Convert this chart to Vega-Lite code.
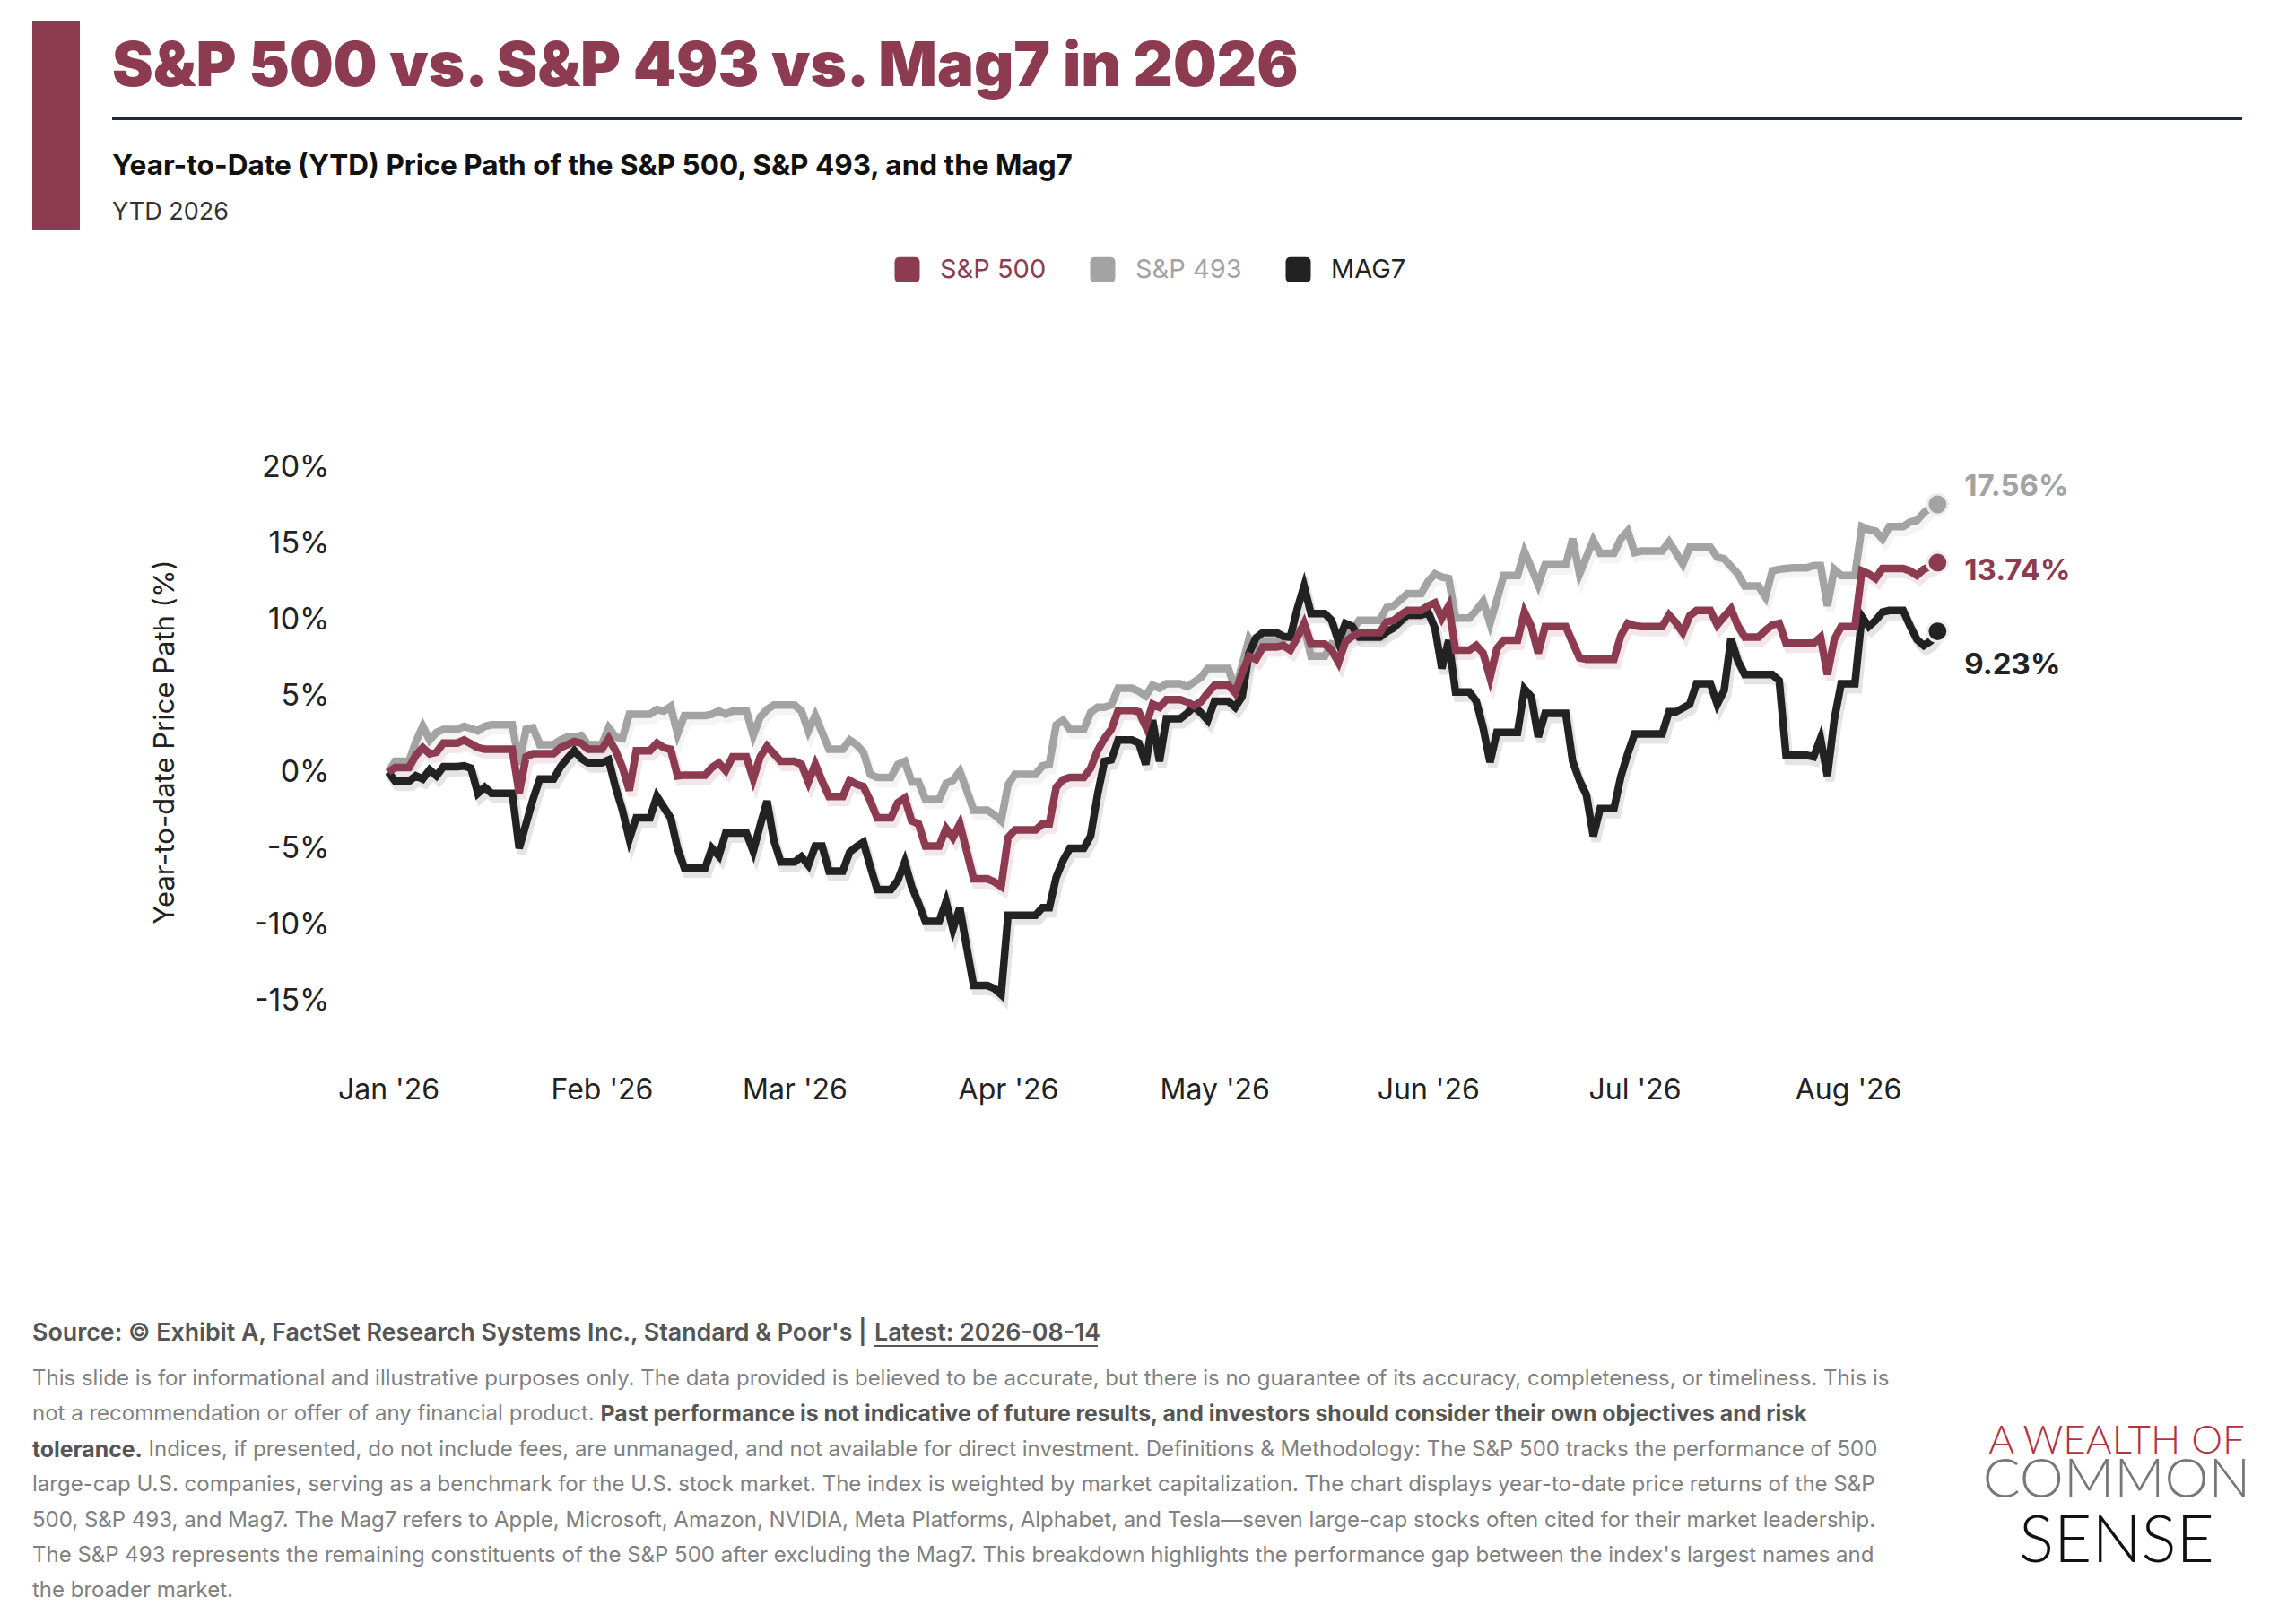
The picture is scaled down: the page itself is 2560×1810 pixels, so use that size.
{
  "$schema": "https://vega.github.io/schema/vega-lite/v6.json",
  "background": "#ffffff",
  "padding": {"left": 36, "top": 23, "right": 0, "bottom": 0},
  "config": {
    "font": "Inter",
    "view": {"stroke": null},
    "concat": {"spacing": 0},
    "title": {"anchor": "start", "frame": "group", "orient": "bottom", "offset": 0},
    "locale": {
      "number": {"decimal": ".", "thousands": ",", "grouping": [3], "currency": ["", "%"], "minus": "-"}
    }
  },
  "datasets": {
    "ytd": [
      {"date": "2026-01-01", "sp500": 0, "sp493": 0, "mag7": 0},
      {"date": "2026-01-02", "sp500": 0.3, "sp493": 0.7, "mag7": -0.6},
      {"date": "2026-01-03", "sp500": 0.3, "sp493": 0.7, "mag7": -0.6},
      {"date": "2026-01-04", "sp500": 0.3, "sp493": 0.7, "mag7": -0.6},
      {"date": "2026-01-05", "sp500": 1.1, "sp493": 2.0, "mag7": -0.25},
      {"date": "2026-01-06", "sp500": 1.6, "sp493": 3.0, "mag7": -0.45},
      {"date": "2026-01-07", "sp500": 1.2, "sp493": 2.1, "mag7": 0.15},
      {"date": "2026-01-08", "sp500": 1.3, "sp493": 2.6, "mag7": -0.25},
      {"date": "2026-01-09", "sp500": 1.9, "sp493": 2.8, "mag7": 0.35},
      {"date": "2026-01-10", "sp500": 1.9, "sp493": 2.8, "mag7": 0.35},
      {"date": "2026-01-11", "sp500": 1.9, "sp493": 2.8, "mag7": 0.35},
      {"date": "2026-01-12", "sp500": 2.1, "sp493": 3.0, "mag7": 0.4},
      {"date": "2026-01-13", "sp500": 1.85, "sp493": 2.85, "mag7": 0.25},
      {"date": "2026-01-14", "sp500": 1.6, "sp493": 2.7, "mag7": -1.4},
      {"date": "2026-01-15", "sp500": 1.5, "sp493": 3.0, "mag7": -1.0},
      {"date": "2026-01-16", "sp500": 1.5, "sp493": 3.1, "mag7": -1.4},
      {"date": "2026-01-17", "sp500": 1.5, "sp493": 3.1, "mag7": -1.4},
      {"date": "2026-01-18", "sp500": 1.5, "sp493": 3.1, "mag7": -1.4},
      {"date": "2026-01-19", "sp500": 1.5, "sp493": 3.1, "mag7": -1.4},
      {"date": "2026-01-20", "sp500": -1.4, "sp493": 0.5, "mag7": -5.0},
      {"date": "2026-01-21", "sp500": 1.0, "sp493": 2.8, "mag7": -3.4},
      {"date": "2026-01-22", "sp500": 1.2, "sp493": 2.9, "mag7": -1.8},
      {"date": "2026-01-23", "sp500": 1.2, "sp493": 1.8, "mag7": -0.45},
      {"date": "2026-01-24", "sp500": 1.2, "sp493": 1.8, "mag7": -0.45},
      {"date": "2026-01-25", "sp500": 1.2, "sp493": 1.8, "mag7": -0.45},
      {"date": "2026-01-26", "sp500": 1.6, "sp493": 2.1, "mag7": 0.35},
      {"date": "2026-01-27", "sp500": 1.8, "sp493": 2.3, "mag7": 0.9},
      {"date": "2026-01-28", "sp500": 2.0, "sp493": 2.3, "mag7": 1.4},
      {"date": "2026-01-29", "sp500": 1.9, "sp493": 2.4, "mag7": 0.9},
      {"date": "2026-01-30", "sp500": 1.5, "sp493": 1.8, "mag7": 0.6},
      {"date": "2026-01-31", "sp500": 1.5, "sp493": 1.8, "mag7": 0.6},
      {"date": "2026-02-01", "sp500": 1.5, "sp493": 1.8, "mag7": 0.6},
      {"date": "2026-02-02", "sp500": 2.2, "sp493": 2.9, "mag7": 0.8},
      {"date": "2026-02-03", "sp500": 1.4, "sp493": 2.3, "mag7": -1.0},
      {"date": "2026-02-04", "sp500": 0.3, "sp493": 2.2, "mag7": -2.5},
      {"date": "2026-02-05", "sp500": -1.2, "sp493": 3.8, "mag7": -4.4},
      {"date": "2026-02-06", "sp500": 1.4, "sp493": 3.8, "mag7": -3.0},
      {"date": "2026-02-07", "sp500": 1.4, "sp493": 3.8, "mag7": -3.0},
      {"date": "2026-02-08", "sp500": 1.4, "sp493": 3.8, "mag7": -3.0},
      {"date": "2026-02-09", "sp500": 1.9, "sp493": 4.1, "mag7": -1.6},
      {"date": "2026-02-10", "sp500": 1.6, "sp493": 4.0, "mag7": -2.3},
      {"date": "2026-02-11", "sp500": 1.5, "sp493": 4.3, "mag7": -3.0},
      {"date": "2026-02-12", "sp500": -0.25, "sp493": 2.5, "mag7": -5.0},
      {"date": "2026-02-13", "sp500": -0.2, "sp493": 3.7, "mag7": -6.3},
      {"date": "2026-02-14", "sp500": -0.2, "sp493": 3.7, "mag7": -6.3},
      {"date": "2026-02-15", "sp500": -0.2, "sp493": 3.7, "mag7": -6.3},
      {"date": "2026-02-16", "sp500": -0.2, "sp493": 3.7, "mag7": -6.3},
      {"date": "2026-02-17", "sp500": 0.3, "sp493": 3.8, "mag7": -5.0},
      {"date": "2026-02-18", "sp500": 0.6, "sp493": 4.0, "mag7": -5.5},
      {"date": "2026-02-19", "sp500": 0.1, "sp493": 3.8, "mag7": -4.0},
      {"date": "2026-02-20", "sp500": 1.0, "sp493": 4.0, "mag7": -4.0},
      {"date": "2026-02-21", "sp500": 1.0, "sp493": 4.0, "mag7": -4.0},
      {"date": "2026-02-22", "sp500": 1.0, "sp493": 4.0, "mag7": -4.0},
      {"date": "2026-02-23", "sp500": -0.45, "sp493": 2.4, "mag7": -5.2},
      {"date": "2026-02-24", "sp500": 1.0, "sp493": 3.6, "mag7": -3.5},
      {"date": "2026-02-25", "sp500": 1.7, "sp493": 4.1, "mag7": -1.9},
      {"date": "2026-02-26", "sp500": 1.2, "sp493": 4.4, "mag7": -4.5},
      {"date": "2026-02-27", "sp500": 0.7, "sp493": 4.4, "mag7": -5.9},
      {"date": "2026-02-28", "sp500": 0.7, "sp493": 4.4, "mag7": -5.9},
      {"date": "2026-03-01", "sp500": 0.7, "sp493": 4.4, "mag7": -5.9},
      {"date": "2026-03-02", "sp500": 0.5, "sp493": 4.0, "mag7": -5.55},
      {"date": "2026-03-03", "sp500": -0.65, "sp493": 2.7, "mag7": -6.1},
      {"date": "2026-03-04", "sp500": 0.5, "sp493": 3.7, "mag7": -4.85},
      {"date": "2026-03-05", "sp500": -0.6, "sp493": 2.6, "mag7": -4.85},
      {"date": "2026-03-06", "sp500": -1.6, "sp493": 1.5, "mag7": -6.5},
      {"date": "2026-03-07", "sp500": -1.6, "sp493": 1.5, "mag7": -6.5},
      {"date": "2026-03-08", "sp500": -1.6, "sp493": 1.5, "mag7": -6.5},
      {"date": "2026-03-09", "sp500": -0.55, "sp493": 2.1, "mag7": -5.25},
      {"date": "2026-03-10", "sp500": -0.8, "sp493": 1.8, "mag7": -4.9},
      {"date": "2026-03-11", "sp500": -0.95, "sp493": 1.3, "mag7": -4.6},
      {"date": "2026-03-12", "sp500": -1.9, "sp493": -0.15, "mag7": -6.2},
      {"date": "2026-03-13", "sp500": -3.0, "sp493": -0.35, "mag7": -7.7},
      {"date": "2026-03-14", "sp500": -3.0, "sp493": -0.35, "mag7": -7.7},
      {"date": "2026-03-15", "sp500": -3.0, "sp493": -0.35, "mag7": -7.7},
      {"date": "2026-03-16", "sp500": -2.0, "sp493": 0.5, "mag7": -7.1},
      {"date": "2026-03-17", "sp500": -1.7, "sp493": 0.7, "mag7": -5.9},
      {"date": "2026-03-18", "sp500": -3.2, "sp493": -0.65, "mag7": -7.5},
      {"date": "2026-03-19", "sp500": -3.4, "sp493": -0.65, "mag7": -8.6},
      {"date": "2026-03-20", "sp500": -4.85, "sp493": -1.8, "mag7": -9.8},
      {"date": "2026-03-21", "sp500": -4.85, "sp493": -1.8, "mag7": -9.8},
      {"date": "2026-03-22", "sp500": -4.85, "sp493": -1.8, "mag7": -9.8},
      {"date": "2026-03-23", "sp500": -3.7, "sp493": -0.75, "mag7": -8.5},
      {"date": "2026-03-24", "sp500": -4.3, "sp493": -0.55, "mag7": -10.3},
      {"date": "2026-03-25", "sp500": -3.4, "sp493": 0.05, "mag7": -8.9},
      {"date": "2026-03-26", "sp500": -5.2, "sp493": -1.2, "mag7": -11.5},
      {"date": "2026-03-27", "sp500": -7.0, "sp493": -2.5, "mag7": -14.0},
      {"date": "2026-03-28", "sp500": -7.0, "sp493": -2.5, "mag7": -14.0},
      {"date": "2026-03-29", "sp500": -7.0, "sp493": -2.5, "mag7": -14.0},
      {"date": "2026-03-30", "sp500": -7.2, "sp493": -2.8, "mag7": -14.2},
      {"date": "2026-03-31", "sp500": -7.5, "sp493": -3.2, "mag7": -14.6},
      {"date": "2026-04-01", "sp500": -4.3, "sp493": -0.85, "mag7": -9.4},
      {"date": "2026-04-02", "sp500": -3.8, "sp493": -0.15, "mag7": -9.4},
      {"date": "2026-04-03", "sp500": -3.8, "sp493": -0.15, "mag7": -9.4},
      {"date": "2026-04-04", "sp500": -3.8, "sp493": -0.15, "mag7": -9.4},
      {"date": "2026-04-05", "sp500": -3.8, "sp493": -0.15, "mag7": -9.4},
      {"date": "2026-04-06", "sp500": -3.4, "sp493": 0.4, "mag7": -8.9},
      {"date": "2026-04-07", "sp500": -3.4, "sp493": 0.5, "mag7": -8.9},
      {"date": "2026-04-08", "sp500": -1.0, "sp493": 3.1, "mag7": -6.9},
      {"date": "2026-04-09", "sp500": -0.5, "sp493": 3.4, "mag7": -5.8},
      {"date": "2026-04-10", "sp500": -0.35, "sp493": 2.8, "mag7": -5.0},
      {"date": "2026-04-11", "sp500": -0.35, "sp493": 2.8, "mag7": -5.0},
      {"date": "2026-04-12", "sp500": -0.35, "sp493": 2.8, "mag7": -5.0},
      {"date": "2026-04-13", "sp500": 0.25, "sp493": 3.9, "mag7": -4.2},
      {"date": "2026-04-14", "sp500": 1.4, "sp493": 4.25, "mag7": -1.5},
      {"date": "2026-04-15", "sp500": 2.2, "sp493": 4.25, "mag7": 0.7},
      {"date": "2026-04-16", "sp500": 2.8, "sp493": 4.4, "mag7": 0.8},
      {"date": "2026-04-17", "sp500": 4.05, "sp493": 5.5, "mag7": 2.1},
      {"date": "2026-04-18", "sp500": 4.05, "sp493": 5.5, "mag7": 2.1},
      {"date": "2026-04-19", "sp500": 4.05, "sp493": 5.5, "mag7": 2.1},
      {"date": "2026-04-20", "sp500": 3.95, "sp493": 5.3, "mag7": 1.9},
      {"date": "2026-04-21", "sp500": 3.0, "sp493": 5.0, "mag7": 0.5},
      {"date": "2026-04-22", "sp500": 4.45, "sp493": 5.7, "mag7": 3.4},
      {"date": "2026-04-23", "sp500": 4.25, "sp493": 5.5, "mag7": 0.7},
      {"date": "2026-04-24", "sp500": 4.75, "sp493": 5.8, "mag7": 3.5},
      {"date": "2026-04-25", "sp500": 4.75, "sp493": 5.8, "mag7": 3.5},
      {"date": "2026-04-26", "sp500": 4.75, "sp493": 5.8, "mag7": 3.5},
      {"date": "2026-04-27", "sp500": 4.6, "sp493": 5.6, "mag7": 3.85},
      {"date": "2026-04-28", "sp500": 4.35, "sp493": 5.9, "mag7": 4.3},
      {"date": "2026-04-29", "sp500": 4.6, "sp493": 6.2, "mag7": 3.9},
      {"date": "2026-04-30", "sp500": 5.2, "sp493": 6.8, "mag7": 3.4},
      {"date": "2026-05-01", "sp500": 5.7, "sp493": 6.8, "mag7": 4.65},
      {"date": "2026-05-02", "sp500": 5.7, "sp493": 6.8, "mag7": 4.65},
      {"date": "2026-05-03", "sp500": 5.7, "sp493": 6.8, "mag7": 4.65},
      {"date": "2026-05-04", "sp500": 5.2, "sp493": 5.4, "mag7": 4.25},
      {"date": "2026-05-05", "sp500": 6.5, "sp493": 7.0, "mag7": 4.95},
      {"date": "2026-05-06", "sp500": 7.6, "sp493": 8.75, "mag7": 7.8},
      {"date": "2026-05-07", "sp500": 7.4, "sp493": 8.0, "mag7": 8.8},
      {"date": "2026-05-08", "sp500": 8.2, "sp493": 8.6, "mag7": 9.15},
      {"date": "2026-05-09", "sp500": 8.2, "sp493": 8.6, "mag7": 9.15},
      {"date": "2026-05-10", "sp500": 8.2, "sp493": 8.6, "mag7": 9.15},
      {"date": "2026-05-11", "sp500": 8.3, "sp493": 8.75, "mag7": 8.9},
      {"date": "2026-05-12", "sp500": 8.0, "sp493": 8.9, "mag7": 8.85},
      {"date": "2026-05-13", "sp500": 8.8, "sp493": 9.2, "mag7": 10.7},
      {"date": "2026-05-14", "sp500": 9.75, "sp493": 9.55, "mag7": 12.2},
      {"date": "2026-05-15", "sp500": 8.4, "sp493": 7.6, "mag7": 10.4},
      {"date": "2026-05-16", "sp500": 8.4, "sp493": 7.6, "mag7": 10.4},
      {"date": "2026-05-17", "sp500": 8.4, "sp493": 7.6, "mag7": 10.4},
      {"date": "2026-05-18", "sp500": 8.0, "sp493": 8.4, "mag7": 9.95},
      {"date": "2026-05-19", "sp500": 7.2, "sp493": 8.3, "mag7": 8.55},
      {"date": "2026-05-20", "sp500": 8.55, "sp493": 8.9, "mag7": 9.75},
      {"date": "2026-05-21", "sp500": 8.9, "sp493": 9.3, "mag7": 9.55},
      {"date": "2026-05-22", "sp500": 9.15, "sp493": 9.95, "mag7": 8.85},
      {"date": "2026-05-23", "sp500": 9.15, "sp493": 9.95, "mag7": 8.85},
      {"date": "2026-05-24", "sp500": 9.15, "sp493": 9.95, "mag7": 8.85},
      {"date": "2026-05-25", "sp500": 9.15, "sp493": 9.95, "mag7": 8.85},
      {"date": "2026-05-26", "sp500": 9.85, "sp493": 10.8, "mag7": 9.2},
      {"date": "2026-05-27", "sp500": 9.95, "sp493": 10.9, "mag7": 9.45},
      {"date": "2026-05-28", "sp500": 10.3, "sp493": 11.3, "mag7": 9.9},
      {"date": "2026-05-29", "sp500": 10.6, "sp493": 11.7, "mag7": 10.3},
      {"date": "2026-05-30", "sp500": 10.6, "sp493": 11.7, "mag7": 10.3},
      {"date": "2026-05-31", "sp500": 10.6, "sp493": 11.7, "mag7": 10.3},
      {"date": "2026-06-01", "sp500": 10.9, "sp493": 12.5, "mag7": 10.5},
      {"date": "2026-06-02", "sp500": 11.1, "sp493": 13.0, "mag7": 9.45},
      {"date": "2026-06-03", "sp500": 10.1, "sp493": 12.8, "mag7": 6.8},
      {"date": "2026-06-04", "sp500": 10.9, "sp493": 12.7, "mag7": 8.65},
      {"date": "2026-06-05", "sp500": 8.0, "sp493": 10.1, "mag7": 5.25},
      {"date": "2026-06-06", "sp500": 8.0, "sp493": 10.1, "mag7": 5.25},
      {"date": "2026-06-07", "sp500": 8.0, "sp493": 10.1, "mag7": 5.25},
      {"date": "2026-06-08", "sp500": 8.3, "sp493": 10.6, "mag7": 4.65},
      {"date": "2026-06-09", "sp500": 7.8, "sp493": 11.2, "mag7": 2.9},
      {"date": "2026-06-10", "sp500": 6.2, "sp493": 9.75, "mag7": 0.65},
      {"date": "2026-06-11", "sp500": 8.1, "sp493": 11.3, "mag7": 2.6},
      {"date": "2026-06-12", "sp500": 8.65, "sp493": 12.9, "mag7": 2.6},
      {"date": "2026-06-13", "sp500": 8.65, "sp493": 12.9, "mag7": 2.6},
      {"date": "2026-06-14", "sp500": 8.65, "sp493": 12.9, "mag7": 2.6},
      {"date": "2026-06-15", "sp500": 10.5, "sp493": 14.45, "mag7": 5.45},
      {"date": "2026-06-16", "sp500": 9.55, "sp493": 13.4, "mag7": 4.95},
      {"date": "2026-06-17", "sp500": 7.8, "sp493": 12.3, "mag7": 2.3},
      {"date": "2026-06-18", "sp500": 9.55, "sp493": 13.6, "mag7": 3.85},
      {"date": "2026-06-19", "sp500": 9.55, "sp493": 13.6, "mag7": 3.85},
      {"date": "2026-06-20", "sp500": 9.55, "sp493": 13.6, "mag7": 3.85},
      {"date": "2026-06-21", "sp500": 9.55, "sp493": 13.6, "mag7": 3.85},
      {"date": "2026-06-22", "sp500": 8.5, "sp493": 15.3, "mag7": 0.7},
      {"date": "2026-06-23", "sp500": 7.5, "sp493": 13.0, "mag7": -0.55},
      {"date": "2026-06-24", "sp500": 7.4, "sp493": 14.1, "mag7": -1.5},
      {"date": "2026-06-25", "sp500": 7.4, "sp493": 15.2, "mag7": -4.2},
      {"date": "2026-06-26", "sp500": 7.4, "sp493": 14.35, "mag7": -2.4},
      {"date": "2026-06-27", "sp500": 7.4, "sp493": 14.35, "mag7": -2.4},
      {"date": "2026-06-28", "sp500": 7.4, "sp493": 14.35, "mag7": -2.4},
      {"date": "2026-06-29", "sp500": 8.95, "sp493": 15.3, "mag7": -0.3},
      {"date": "2026-06-30", "sp500": 9.75, "sp493": 15.8, "mag7": 1.2},
      {"date": "2026-07-01", "sp500": 9.6, "sp493": 14.4, "mag7": 2.5},
      {"date": "2026-07-02", "sp500": 9.55, "sp493": 14.5, "mag7": 2.5},
      {"date": "2026-07-03", "sp500": 9.55, "sp493": 14.5, "mag7": 2.5},
      {"date": "2026-07-04", "sp500": 9.55, "sp493": 14.5, "mag7": 2.5},
      {"date": "2026-07-05", "sp500": 9.55, "sp493": 14.5, "mag7": 2.5},
      {"date": "2026-07-06", "sp500": 10.3, "sp493": 15.1, "mag7": 3.95},
      {"date": "2026-07-07", "sp500": 9.8, "sp493": 14.4, "mag7": 3.95},
      {"date": "2026-07-08", "sp500": 9.15, "sp493": 13.65, "mag7": 4.2},
      {"date": "2026-07-09", "sp500": 10.25, "sp493": 14.75, "mag7": 4.45},
      {"date": "2026-07-10", "sp500": 10.6, "sp493": 14.75, "mag7": 5.8},
      {"date": "2026-07-11", "sp500": 10.6, "sp493": 14.75, "mag7": 5.8},
      {"date": "2026-07-12", "sp500": 10.6, "sp493": 14.75, "mag7": 5.8},
      {"date": "2026-07-13", "sp500": 9.65, "sp493": 14.1, "mag7": 4.45},
      {"date": "2026-07-14", "sp500": 10.2, "sp493": 14.0, "mag7": 5.35},
      {"date": "2026-07-15", "sp500": 10.7, "sp493": 13.5, "mag7": 8.75},
      {"date": "2026-07-16", "sp500": 9.6, "sp493": 13.0, "mag7": 7.3},
      {"date": "2026-07-17", "sp500": 8.85, "sp493": 12.2, "mag7": 6.4},
      {"date": "2026-07-18", "sp500": 8.85, "sp493": 12.2, "mag7": 6.4},
      {"date": "2026-07-19", "sp500": 8.85, "sp493": 12.2, "mag7": 6.4},
      {"date": "2026-07-20", "sp500": 9.3, "sp493": 11.5, "mag7": 6.4},
      {"date": "2026-07-21", "sp500": 9.65, "sp493": 13.2, "mag7": 6.4},
      {"date": "2026-07-22", "sp500": 9.75, "sp493": 13.3, "mag7": 6.0},
      {"date": "2026-07-23", "sp500": 8.45, "sp493": 13.35, "mag7": 1.1},
      {"date": "2026-07-24", "sp500": 8.45, "sp493": 13.4, "mag7": 1.1},
      {"date": "2026-07-25", "sp500": 8.45, "sp493": 13.4, "mag7": 1.1},
      {"date": "2026-07-26", "sp500": 8.45, "sp493": 13.4, "mag7": 1.1},
      {"date": "2026-07-27", "sp500": 8.45, "sp493": 13.55, "mag7": 1.0},
      {"date": "2026-07-28", "sp500": 8.85, "sp493": 13.55, "mag7": 2.2},
      {"date": "2026-07-29", "sp500": 6.4, "sp493": 10.9, "mag7": -0.25},
      {"date": "2026-07-30", "sp500": 8.7, "sp493": 13.3, "mag7": 3.45},
      {"date": "2026-07-31", "sp500": 9.55, "sp493": 12.9, "mag7": 5.8},
      {"date": "2026-08-01", "sp500": 9.55, "sp493": 12.9, "mag7": 5.8},
      {"date": "2026-08-02", "sp500": 9.55, "sp493": 12.9, "mag7": 5.8},
      {"date": "2026-08-03", "sp500": 13.2, "sp493": 16.1, "mag7": 10.2},
      {"date": "2026-08-04", "sp500": 13.0, "sp493": 15.9, "mag7": 9.55},
      {"date": "2026-08-05", "sp500": 12.7, "sp493": 15.8, "mag7": 9.95},
      {"date": "2026-08-06", "sp500": 13.35, "sp493": 15.3, "mag7": 10.5},
      {"date": "2026-08-07", "sp500": 13.35, "sp493": 16.1, "mag7": 10.6},
      {"date": "2026-08-08", "sp500": 13.35, "sp493": 16.1, "mag7": 10.6},
      {"date": "2026-08-09", "sp500": 13.35, "sp493": 16.1, "mag7": 10.6},
      {"date": "2026-08-10", "sp500": 13.2, "sp493": 16.4, "mag7": 9.6},
      {"date": "2026-08-11", "sp500": 12.9, "sp493": 16.5, "mag7": 8.7},
      {"date": "2026-08-12", "sp500": 13.3, "sp493": 17.0, "mag7": 8.3},
      {"date": "2026-08-13", "sp500": 13.5, "sp493": 17.4, "mag7": 8.6},
      {"date": "2026-08-14", "sp500": 13.74, "sp493": 17.56, "mag7": 9.23}
    ]
  },
  "spacing": 0,
  "vconcat": [
    {
      "spacing": 36,
      "hconcat": [
        {
          "width": 53,
          "height": 233,
          "view": {"fill": "#8C3B50", "stroke": null},
          "data": {"values": []},
          "mark": "point"
        },
        {
          "spacing": 0,
          "vconcat": [
            {
              "width": 2375,
              "height": 0,
              "title": {
                "text": "S&P 500 vs. S&P 493 vs. Mag7 in 2026",
                "fontSize": 68.7,
                "fontWeight": 900,
                "color": "#8C3B50",
                "offset": -1
              },
              "data": {"values": []},
              "mark": "point"
            },
            {"width": 10, "height": 21, "data": {"values": []}, "mark": "point"},
            {
              "width": 2375,
              "height": 3,
              "view": {"fill": "#1D2A40", "stroke": null},
              "data": {"values": []},
              "mark": "point"
            },
            {"width": 10, "height": 12, "data": {"values": []}, "mark": "point"},
            {
              "width": 2375,
              "height": 0,
              "title": {
                "text": "Year-to-Date (YTD) Price Path of the S&P 500, S&P 493, and the Mag7",
                "subtitle": "YTD 2026",
                "fontSize": 31.5,
                "fontWeight": 700,
                "color": "#111111",
                "subtitleFontSize": 27,
                "subtitleFontWeight": 400,
                "subtitleColor": "#333333",
                "subtitlePadding": 22
              },
              "data": {"values": []},
              "mark": "point"
            }
          ]
        }
      ]
    },
    {"width": 10, "height": 214, "data": {"values": []}, "mark": "point"},
    {
      "spacing": 0,
      "hconcat": [
        {"width": 132, "height": 10, "data": {"values": []}, "mark": "point"},
        {
          "width": 1831,
          "height": 714,
          "data": {"name": "ytd"},
          "transform": [{"fold": ["sp500", "sp493", "mag7"], "as": ["series", "value"]}],
          "layer": [
            {
              "data": {"values": [{"level": 0}]},
              "mark": {"type": "rule", "color": "#2A2A2A", "strokeWidth": 2.5},
              "encoding": {
                "y": {"field": "level", "type": "quantitative"}
              }
            },
            {
              "mark": {"type": "line", "color": "#000000", "opacity": 0.12, "strokeWidth": 10, "xOffset": 3, "yOffset": 6},
              "encoding": {
                "x": {"field": "date", "type": "temporal"},
                "y": {"field": "value", "type": "quantitative"},
                "detail": {"field": "series"}
              }
            },
            {
              "transform": [{"filter": "datum.series == 'sp493'"}],
              "mark": {"type": "line", "strokeWidth": 8.5},
              "encoding": {
                "x": {"field": "date", "type": "temporal"},
                "y": {"field": "value", "type": "quantitative"},
                "color": {"field": "series", "type": "nominal"}
              }
            },
            {
              "transform": [{"filter": "datum.series == 'mag7'"}],
              "mark": {"type": "line", "strokeWidth": 8.5},
              "encoding": {
                "x": {"field": "date", "type": "temporal"},
                "y": {"field": "value", "type": "quantitative"},
                "color": {"field": "series", "type": "nominal"}
              }
            },
            {
              "transform": [{"filter": "datum.series == 'sp500'"}],
              "mark": {"type": "line", "strokeWidth": 8.5},
              "encoding": {
                "x": {"field": "date", "type": "temporal"},
                "y": {"field": "value", "type": "quantitative"},
                "color": {"field": "series", "type": "nominal"}
              }
            },
            {
              "transform": [{"filter": "utcmonth(datum.date) == 7 && utcdate(datum.date) == 14"}],
              "mark": {"type": "point", "filled": true, "size": 520, "opacity": 1, "stroke": "#eeeeee", "strokeWidth": 3},
              "encoding": {
                "x": {"field": "date", "type": "temporal"},
                "y": {"field": "value", "type": "quantitative"},
                "color": {"field": "series", "type": "nominal"}
              }
            },
            {
              "transform": [{"filter": "datum.series == 'sp493' && utcmonth(datum.date) == 7 && utcdate(datum.date) == 14"}],
              "mark": {"type": "text", "align": "left", "dx": 30, "dy": -19, "fontSize": 33, "fontWeight": 700, "color": "#9E9E9E"},
              "encoding": {
                "x": {"field": "date", "type": "temporal"},
                "y": {"field": "value", "type": "quantitative"},
                "text": {"field": "value", "type": "quantitative", "format": "$.2f"}
              }
            },
            {
              "transform": [{"filter": "datum.series == 'sp500' && utcmonth(datum.date) == 7 && utcdate(datum.date) == 14"}],
              "mark": {"type": "text", "align": "left", "dx": 30, "dy": 10, "fontSize": 33, "fontWeight": 700, "color": "#8C3B50"},
              "encoding": {
                "x": {"field": "date", "type": "temporal"},
                "y": {"field": "value", "type": "quantitative"},
                "text": {"field": "value", "type": "quantitative", "format": "$.2f"}
              }
            },
            {
              "transform": [{"filter": "datum.series == 'mag7' && utcmonth(datum.date) == 7 && utcdate(datum.date) == 14"}],
              "mark": {"type": "text", "align": "left", "dx": 30, "dy": 38, "fontSize": 33, "fontWeight": 700, "color": "#111111"},
              "encoding": {
                "x": {"field": "date", "type": "temporal"},
                "y": {"field": "value", "type": "quantitative"},
                "text": {"field": "value", "type": "quantitative", "format": "$.2f"}
              }
            }
          ],
          "encoding": {
            "x": {
              "field": "date",
              "type": "temporal",
              "title": null,
              "scale": {
                "type": "utc",
                "domain": [
                  {"year": 2025, "month": 12, "date": 25, "hours": 18, "utc": true},
                  {"year": 2026, "month": 8, "date": 21, "hours": 6, "utc": true}
                ]
              },
              "axis": {
                "values": [
                  {"year": 2026, "month": 1, "date": 1, "utc": true},
                  {"year": 2026, "month": 2, "date": 1, "utc": true},
                  {"year": 2026, "month": 3, "date": 1, "utc": true},
                  {"year": 2026, "month": 4, "date": 1, "utc": true},
                  {"year": 2026, "month": 5, "date": 1, "utc": true},
                  {"year": 2026, "month": 6, "date": 1, "utc": true},
                  {"year": 2026, "month": 7, "date": 1, "utc": true},
                  {"year": 2026, "month": 8, "date": 1, "utc": true}
                ],
                "format": "%b '%y",
                "labelFontSize": 32,
                "labelColor": "#222222",
                "labelPadding": 16,
                "ticks": false,
                "domain": false,
                "grid": false
              }
            },
            "y": {
              "field": "value",
              "type": "quantitative",
              "scale": {"domain": [-19, 23], "nice": false, "zero": false},
              "axis": {
                "values": [-15, -10, -5, 0, 5, 10, 15, 20],
                "labelExpr": "datum.value + '%'",
                "labelFontSize": 34,
                "labelColor": "#222222",
                "labelPadding": 18,
                "ticks": false,
                "domain": false,
                "grid": false,
                "title": "Year-to-date Price Path (%)",
                "titleFontSize": 31,
                "titleFontWeight": 400,
                "titleColor": "#222222",
                "titlePadding": 82
              }
            },
            "color": {
              "field": "series",
              "type": "nominal",
              "scale": {
                "domain": ["sp500", "sp493", "mag7"],
                "range": ["#8C3B50", "#A3A3A3", "#222222"]
              },
              "legend": {
                "orient": "none",
                "legendX": 961,
                "legendY": 263,
                "direction": "horizontal",
                "title": null,
                "padding": 0,
                "symbolType": "M-0.6,-1 L0.6,-1 Q1,-1 1,-0.6 L1,0.6 Q1,1 0.6,1 L-0.6,1 Q-1,1 -1,0.6 L-1,-0.6 Q-1,-1 -0.6,-1 Z",
                "symbolSize": 784,
                "symbolStrokeWidth": 0,
                "symbolOpacity": 1,
                "labelFontSize": 29,
                "labelFont": "Inter",
                "labelOffset": 22,
                "columnPadding": 48,
                "labelExpr": "datum.label == 'sp500' ? 'S&P 500' : datum.label == 'sp493' ? 'S&P 493' : 'MAG7'",
                "encode": {
                  "symbols": {"update": {"fill": {"scale": "color", "field": "value"}, "stroke": {"value": "transparent"}}},
                  "labels": {"update": {"fill": {"scale": "color", "field": "value"}}}
                }
              }
            }
          }
        }
      ]
    },
    {"width": 10, "height": 243, "data": {"values": []}, "mark": "point"},
    {
      "spacing": 74,
      "hconcat": [
        {
          "spacing": -1,
          "vconcat": [
            {
              "spacing": 7,
              "hconcat": [
                {
                  "width": 0,
                  "height": 2,
                  "title": {
                    "text": "Source: © Exhibit A, FactSet Research Systems Inc., Standard & Poor's |",
                    "orient": "top",
                    "offset": -1,
                    "fontSize": 26.8,
                    "fontWeight": 600,
                    "color": "#555555"
                  },
                  "data": {"values": []},
                  "mark": "point"
                },
                {
                  "width": 249,
                  "height": 2,
                  "view": {"fill": "#555555", "stroke": null},
                  "title": {
                    "text": "Latest: 2026-08-14",
                    "orient": "top",
                    "offset": -1,
                    "fontSize": 26.8,
                    "fontWeight": 600,
                    "color": "#555555"
                  },
                  "data": {"values": []},
                  "mark": "point"
                }
              ]
            },
            {
              "bounds": "flush",
              "spacing": 39.4,
              "vconcat": [
                {
                  "hconcat": [
                    {
                      "width": 2100,
                      "height": 0,
                      "title": {"text": "This slide is for informational and illustrative purposes only. The data provided is believed to be accurate, but there is no guarantee of its accuracy, completeness, or timeliness. This is", "fontSize": 24, "fontWeight": 400, "color": "#808080"},
                      "data": {"values": []},
                      "mark": "point"
                    }
                  ]
                },
                {
                  "spacing": 6.5,
                  "hconcat": [
                    {
                      "width": 0,
                      "height": 0,
                      "title": {"text": "not a recommendation or offer of any financial product.", "fontSize": 24, "fontWeight": 400, "color": "#808080"},
                      "data": {"values": []},
                      "mark": "point"
                    },
                    {
                      "width": 0,
                      "height": 0,
                      "title": {"text": "Past performance is not indicative of future results, and investors should consider their own objectives and risk", "fontSize": 24.8, "fontWeight": 700, "color": "#555555"},
                      "data": {"values": []},
                      "mark": "point"
                    }
                  ]
                },
                {
                  "spacing": 6.5,
                  "hconcat": [
                    {
                      "width": 0,
                      "height": 0,
                      "title": {"text": "tolerance.", "fontSize": 24.8, "fontWeight": 700, "color": "#555555"},
                      "data": {"values": []},
                      "mark": "point"
                    },
                    {
                      "width": 0,
                      "height": 0,
                      "title": {"text": "Indices, if presented, do not include fees, are unmanaged, and not available for direct investment. Definitions & Methodology: The S&P 500 tracks the performance of 500", "fontSize": 24, "fontWeight": 400, "color": "#808080"},
                      "data": {"values": []},
                      "mark": "point"
                    }
                  ]
                },
                {
                  "hconcat": [
                    {
                      "width": 0,
                      "height": 0,
                      "title": {"text": "large-cap U.S. companies, serving as a benchmark for the U.S. stock market. The index is weighted by market capitalization. The chart displays year-to-date price returns of the S&P", "fontSize": 24, "fontWeight": 400, "color": "#808080"},
                      "data": {"values": []},
                      "mark": "point"
                    }
                  ]
                },
                {
                  "hconcat": [
                    {
                      "width": 0,
                      "height": 0,
                      "title": {"text": "500, S&P 493, and Mag7. The Mag7 refers to Apple, Microsoft, Amazon, NVIDIA, Meta Platforms, Alphabet, and Tesla—seven large-cap stocks often cited for their market leadership.", "fontSize": 24, "fontWeight": 400, "color": "#808080"},
                      "data": {"values": []},
                      "mark": "point"
                    }
                  ]
                },
                {
                  "hconcat": [
                    {
                      "width": 0,
                      "height": 0,
                      "title": {"text": "The S&P 493 represents the remaining constituents of the S&P 500 after excluding the Mag7. This breakdown highlights the performance gap between the index's largest names and", "fontSize": 24, "fontWeight": 400, "color": "#808080"},
                      "data": {"values": []},
                      "mark": "point"
                    }
                  ]
                },
                {
                  "hconcat": [
                    {
                      "width": 0,
                      "height": 0,
                      "title": {"text": "the broader market.", "fontSize": 24, "fontWeight": 400, "color": "#808080"},
                      "data": {"values": []},
                      "mark": "point"
                    }
                  ]
                }
              ]
            }
          ]
        },
        {
          "spacing": 0,
          "vconcat": [
            {
              "width": 300,
              "height": 0,
              "title": {
                "text": "A WEALTH OF",
                "subtitle": "COMMON",
                "anchor": "middle",
                "font": "Lato",
                "fontSize": 44,
                "fontWeight": 300,
                "color": "#B0353F",
                "subtitleFont": "Lato",
                "subtitleFontSize": 62,
                "subtitleFontWeight": 300,
                "subtitleColor": "#777777",
                "subtitlePadding": -9,
                "offset": 66
              },
              "data": {"values": []},
              "mark": "point"
            },
            {
              "width": 300,
              "height": 0,
              "title": {
                "text": "SENSE",
                "anchor": "middle",
                "font": "Lato",
                "fontSize": 73,
                "fontWeight": 300,
                "color": "#111111",
                "offset": -18
              },
              "data": {"values": []},
              "mark": "point"
            }
          ]
        }
      ]
    }
  ]
}
